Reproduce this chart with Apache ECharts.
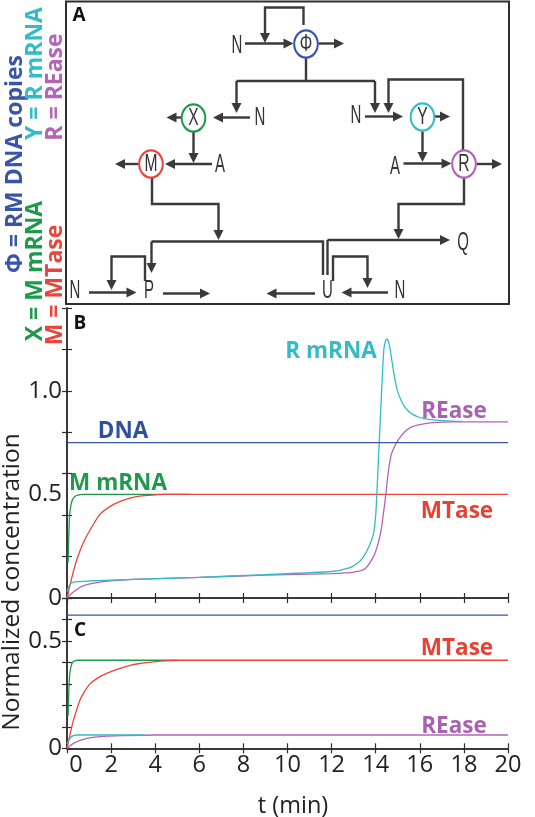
<!DOCTYPE html>
<html><head><meta charset="utf-8">
<script src="https://cdn.jsdelivr.net/npm/echarts@6/dist/echarts.min.js"></script>
<style>html,body{margin:0;padding:0;background:#fff}#c{width:535px;height:817px}</style>
</head><body><div id="c"></div><script>
// ---------- Data: panel B ----------
const B_DNA_T = [0, 20];
const B_DNA_V = [0.75, 0.75];
const B_MMRNA_T = [0.05, 0.08, 0.12, 0.18, 0.25, 0.35, 0.5, 0.7, 5.6];
const B_MMRNA_V = [0.17, 0.30, 0.40, 0.45, 0.475, 0.49, 0.497, 0.5, 0.5];
const B_MTASE_T = [0, 0.2, 0.4, 0.6, 0.8, 1.0, 1.5, 2.0, 2.5, 3.0, 3.5, 4.0, 4.5, 5.0, 20];
const B_MTASE_V = [0, 0.09, 0.17, 0.23, 0.28, 0.32, 0.405, 0.445, 0.47, 0.486, 0.494, 0.498, 0.5, 0.5, 0.5];
const B_RMRNA_T = [0, 0.1, 0.2, 0.35, 1, 3, 6, 9, 12, 12.8, 13.2, 13.45, 13.7, 13.9, 14.0, 14.05, 14.16, 14.27, 14.37, 14.44, 14.49, 14.55, 14.62, 14.7, 14.8, 14.9, 15.0, 15.15, 15.3, 15.5, 15.7, 15.9, 16.2, 16.6, 17.2, 17.9];
const B_RMRNA_V = [0.03, 0.06, 0.072, 0.078, 0.082, 0.09, 0.10, 0.113, 0.128, 0.145, 0.17, 0.2, 0.25, 0.31, 0.4, 0.5, 0.75, 1.0, 1.2, 1.24, 1.25, 1.245, 1.22, 1.17, 1.10, 1.04, 0.995, 0.955, 0.925, 0.9, 0.885, 0.875, 0.866, 0.86, 0.855, 0.852];
const B_REASE_T = [0, 0.3, 0.75, 1.5, 2.25, 3, 6, 9, 12, 13, 13.5, 13.9, 14.1, 14.25, 14.34, 14.46, 14.56, 14.7, 14.85, 15.0, 15.3, 15.6, 15.9, 16.3, 16.6, 17.5, 20];
const B_REASE_V = [0, 0.03, 0.06, 0.077, 0.085, 0.09, 0.10, 0.11, 0.118, 0.125, 0.14, 0.2, 0.26, 0.33, 0.4, 0.5, 0.6, 0.69, 0.73, 0.76, 0.8, 0.825, 0.835, 0.843, 0.847, 0.85, 0.85];
// ---------- Data: panel C ----------
const C_DNA_T = [0, 20];
const C_DNA_V = [0.62, 0.62];
const C_MMRNA_T = [0.05, 0.08, 0.12, 0.18, 0.25, 0.35, 0.5, 5.0];
const C_MMRNA_V = [0.15, 0.26, 0.34, 0.38, 0.40, 0.407, 0.41, 0.41];
const C_MTASE_T = [0, 0.15, 0.29, 0.59, 0.8, 1.04, 1.4, 1.79, 2.2, 2.55, 2.9, 3.3, 3.7, 4.06, 4.5, 5.1, 20];
const C_MTASE_V = [0, 0.07, 0.13, 0.225, 0.265, 0.30, 0.328, 0.349, 0.365, 0.377, 0.387, 0.395, 0.40, 0.404, 0.407, 0.41, 0.41];
const C_RMRNA_T = [0, 0.1, 0.2, 0.3, 0.43, 3.5];
const C_RMRNA_V = [0.02, 0.04, 0.054, 0.059, 0.062, 0.062];
const C_REASE_T = [0, 0.29, 0.74, 1.5, 2.55, 4.06, 20];
const C_REASE_V = [0, 0.023, 0.042, 0.054, 0.059, 0.062, 0.062];
// ---------- Tick labels ----------
const X_TICKS = [0, 2, 4, 6, 8, 10, 12, 14, 16, 18, 20];
const B_Y_LABELS = [0, 0.5, 1.0];
const C_Y_LABELS = [0, 0.5];

const zip = (t, v) => t.map((x, i) => [x, v[i]]);

const BLUE = '#3a55a8', CYAN = '#33bcc6', PURPLE = '#b463b8', GREEN = '#1f9a4c', RED = '#e8453c';
const INK = '#3a3a3a', FRAME = '#2e2e2e';
const TICKFONT = '"Open Sans", "Noto Sans", sans-serif';

// ---------- diagram helpers (panel A) ----------
function seg(points) {
  return {type: 'polyline', silent: true, shape: {points}, style: {stroke: INK, lineWidth: 2.4, fill: null}};
}
function head(tip, dir) {
  const L = 10, W = 5, x = tip[0], y = tip[1];
  let p;
  if (dir === 'r') p = [[x, y], [x - L, y - W], [x - L, y + W]];
  else if (dir === 'l') p = [[x, y], [x + L, y - W], [x + L, y + W]];
  else if (dir === 'd') p = [[x, y], [x - W, y - L], [x + W, y - L]];
  else p = [[x, y], [x - W, y + L], [x + W, y + L]];
  return {type: 'polygon', silent: true, shape: {points: p}, style: {fill: INK}};
}
function arrow(points) {
  const n = points.length, a = points[n - 2], b = points[n - 1];
  const dir = b[0] > a[0] ? 'r' : b[0] < a[0] ? 'l' : b[1] > a[1] ? 'd' : 'u';
  const pts = points.slice();
  const e = pts[n - 1].slice();
  if (dir === 'r') e[0] -= 6; else if (dir === 'l') e[0] += 6; else if (dir === 'd') e[1] -= 6; else e[1] += 6;
  pts[n - 1] = e;
  return [seg(pts), head(b, dir)];
}
function letter(txt, x, y, size, color, sx) {
  return {type: 'text', silent: true, x, y, scaleX: sx, style: {text: txt, x: 0, y: 0, align: 'center', verticalAlign: 'middle', textAlign: 'center', textVerticalAlign: 'middle', font: size + 'px "Liberation Sans", Arial, sans-serif', fill: color}};
}
function node(txt, cx, cy, color) {
  return [
    {type: 'circle', silent: true, x: cx, y: cy, scaleY: 1.15, shape: {cx: 0, cy: 0, r: 11.8}, style: {stroke: color, lineWidth: 2, fill: '#fff'}},
    letter(txt, cx, cy + 1, 23, '#333', 0.68)
  ];
}
function label(txt, x, y, color, size, rot) {
  return {type: 'text', silent: true, x, y, rotation: rot || 0, style: {text: txt, x: 0, y: 0, align: 'center', verticalAlign: 'middle', textAlign: 'center', textVerticalAlign: 'middle', font: 'bold ' + (size || 22.5) + 'px "Open Sans", "Noto Sans", sans-serif', fill: color}};
}
const L = (t, x, y) => letter(t, x, y, 25, '#333', 0.6);

const diagram = [].concat(
  [{type: 'rect', silent: true, shape: {x: 66, y: 1.5, width: 443, height: 302.5}, style: {stroke: FRAME, lineWidth: 2, fill: null}}],
  // Phi
  arrow([[303.5, 25], [303.5, 7.5], [265, 7.5], [265, 43]]),
  arrow([[245, 43.5], [293.5, 43.5]]),
  arrow([[318.5, 43.5], [344, 43.5]]),
  [seg([[306, 57], [306, 81]]), seg([[236.5, 81], [375, 81]])],
  arrow([[236.5, 81], [236.5, 113]]),
  arrow([[375, 81], [375, 113]]),
  node('Φ', 306, 44, BLUE),
  [L('N', 237, 46)],
  // X
  arrow([[250, 117.5], [213, 117.5]]),
  arrow([[181.5, 117.5], [166.5, 117.5]]),
  arrow([[193.5, 132], [193.5, 163]]),
  node('X', 193.5, 118, GREEN),
  [L('N', 260, 118)],
  // M
  arrow([[212, 164], [165, 164]]),
  arrow([[138.5, 164], [115, 164]]),
  arrow([[152, 178], [152, 204], [218.5, 204], [218.5, 240]]),
  node('M', 151, 164, RED),
  [L('A', 220, 165)],
  // Y and R
  arrow([[463, 150], [463, 79.5], [388.5, 79.5], [388.5, 113]]),
  arrow([[365, 116.5], [403, 116.5]]),
  arrow([[435, 116.5], [450, 116.5]]),
  arrow([[422.5, 131.5], [422.5, 162]]),
  node('Y', 422.5, 117, CYAN),
  [L('N', 356, 116)],
  arrow([[403.5, 163.5], [451.5, 163.5]]),
  arrow([[476.5, 164], [502, 164]]),
  arrow([[464, 178], [464, 204], [398.5, 204], [398.5, 239]]),
  node('R', 464, 164, PURPLE),
  [L('A', 395, 167)],
  // lower network
  [seg([[151.5, 241.5], [323, 241.5], [323, 275]]), seg([[327.5, 275], [327.5, 240]])],
  arrow([[151.5, 241.5], [151.5, 273]]),
  arrow([[327.5, 240], [450, 240]]),
  [L('Q', 463, 243)],
  arrow([[89, 292.5], [136.5, 292.5]]),
  arrow([[145, 281], [145, 256.5], [111.5, 256.5], [111.5, 290]]),
  arrow([[163, 293.5], [210, 293.5]]),
  [L('N', 75, 291), L('P', 149, 291)],
  arrow([[315, 293.5], [266.5, 293.5]]),
  arrow([[388, 292.5], [341.5, 292.5]]),
  arrow([[333, 281], [333, 256.5], [367.5, 256.5], [367.5, 288]]),
  [L('U', 327.5, 291), L('N', 400, 291)],
  // panel letters
  [label('A', 79, 16, '#111', 19), label('B', 80, 324, '#111', 19), label('C', 80, 631, '#111', 19)],
  // left legend (rotated)
  [label('Φ = RM DNA copies', 15.5, 164, BLUE, 23, Math.PI / 2),
   label('Y = R mRNA', 35.5, 73.5, CYAN, 23, Math.PI / 2),
   label('R = REase', 55.5, 87, PURPLE, 23, Math.PI / 2),
   label('X = M mRNA', 35.5, 271, GREEN, 23, Math.PI / 2),
   label('M = MTase', 55.5, 285, RED, 23, Math.PI / 2)],
  // curve labels
  [label('R mRNA', 331, 352, CYAN), label('DNA', 123, 431.5, '#2f4f9f'), label('M mRNA', 118, 483.5, GREEN),
   label('REase', 454, 411.5, '#a862b0'), label('MTase', 457, 511.5, '#e84032'),
   label('MTase', 457, 649, '#e84032'), label('REase', 454, 726.5, '#a862b0')],
  // axis titles
  [{type: 'text', silent: true, x: 12, y: 582, rotation: Math.PI / 2, style: {text: 'Normalized concentration', x: 0, y: 0, align: 'center', verticalAlign: 'middle', textAlign: 'center', textVerticalAlign: 'middle', font: '24.5px ' + TICKFONT, fill: '#222'}},
   {type: 'text', silent: true, x: 293, y: 806, style: {text: 't (min)', x: 0, y: 0, align: 'center', verticalAlign: 'middle', textAlign: 'center', textVerticalAlign: 'middle', font: '23.5px ' + TICKFONT, fill: '#222'}}]
);

const axisLine = {show: true, lineStyle: {color: FRAME, width: 1.5}};
const tick = {show: true, inside: true, length: 5, lineStyle: {color: FRAME, width: 1.2}};
function xAx(grid, pos, labels) {
  return {type: 'value', gridIndex: grid, position: pos, min: 0, max: 20, interval: 2,
    axisLine, axisTick: tick, splitLine: {show: false},
    axisLabel: labels ? {show: true, margin: 5, color: '#222', fontSize: 23.5, fontFamily: TICKFONT,
      formatter: v => v === 0 ? '{z|0}' : String(v),
      rich: {z: {padding: [0, 0, 0, 18], fontSize: 23.5, fontFamily: TICKFONT, color: '#222'}}} : {show: false}};
}
function yAx(grid, pos, max, iv, labels) {
  return {type: 'value', gridIndex: grid, position: pos, min: 0, max, interval: iv,
    axisLine, axisTick: tick, splitLine: {show: false},
    axisLabel: labels ? {show: true, customValues: labels, margin: 5, color: '#222', fontSize: 24, fontFamily: TICKFONT, padding: [12, 0, 0, 0],
      formatter: v => v === 0 ? '0' : Number(v).toFixed(1)} : {show: false}};
}
function line(x, y, data, color, z) {
  return {type: 'line', xAxisIndex: x, yAxisIndex: y, data, showSymbol: false, symbol: 'none', smooth: 0.25,
    lineStyle: {color, width: 1.3}, z: z || 2, silent: true};
}

const chart = echarts.init(document.getElementById('c'), null, {renderer: 'canvas'});
chart.setOption({
  animation: false,
  backgroundColor: '#fff',
  grid: [{left: 67, top: 308, width: 441, height: 290}, {left: 67, top: 598, width: 441, height: 150.3}],
  xAxis: [xAx(0, 'bottom', false), xAx(0, 'top', false), xAx(1, 'bottom', true), xAx(1, 'top', false)],
  yAxis: [yAx(0, 'left', 1.4, 0.2, B_Y_LABELS), yAx(0, 'right', 1.4, 0.2, null), yAx(1, 'left', 0.7, 0.1, C_Y_LABELS), yAx(1, 'right', 0.7, 0.1, null)],
  series: [
    line(0, 0, zip(B_MMRNA_T, B_MMRNA_V), GREEN, 2),
    line(0, 0, zip(B_MTASE_T, B_MTASE_V), RED, 3),
    line(0, 0, zip(B_REASE_T, B_REASE_V), PURPLE, 3),
    line(0, 0, zip(B_RMRNA_T, B_RMRNA_V), CYAN, 4),
    line(0, 0, zip(B_DNA_T, B_DNA_V), BLUE, 5),
    line(2, 2, zip(C_MMRNA_T, C_MMRNA_V), GREEN, 2),
    line(2, 2, zip(C_MTASE_T, C_MTASE_V), RED, 3),
    line(2, 2, zip(C_REASE_T, C_REASE_V), PURPLE, 3),
    line(2, 2, zip(C_RMRNA_T, C_RMRNA_V), CYAN, 4),
    line(2, 2, zip(C_DNA_T, C_DNA_V), BLUE, 5)
  ],
  graphic: {elements: diagram}
});
</script></body></html>
